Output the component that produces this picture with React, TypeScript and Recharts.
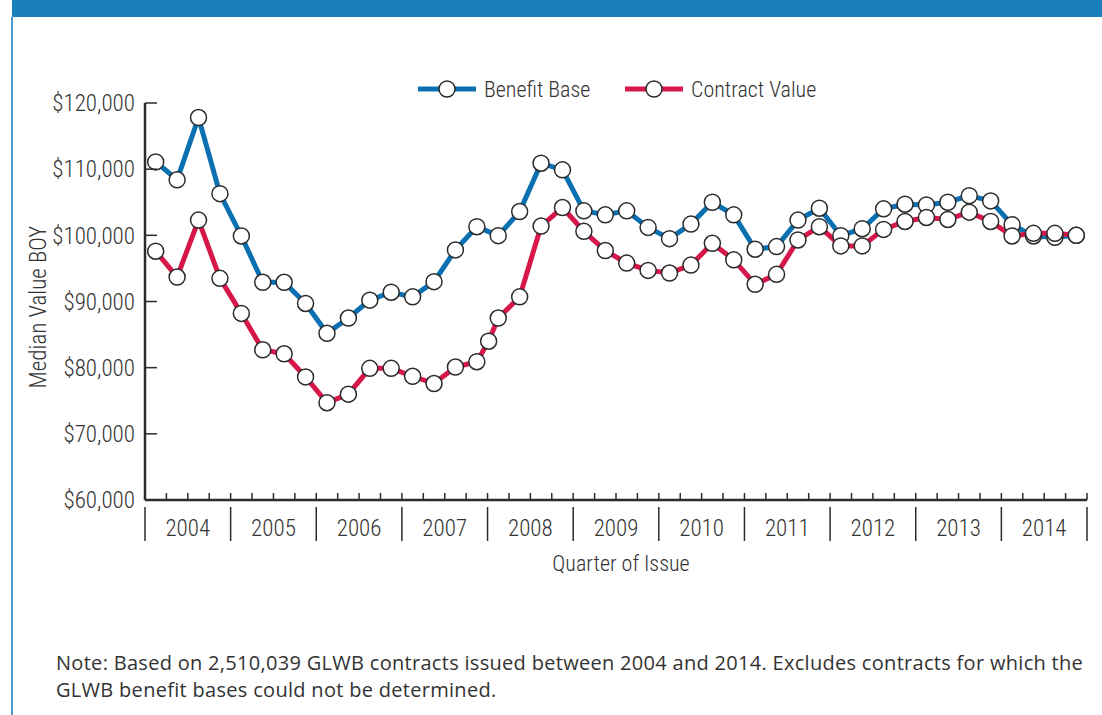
import { LineChart, Line, XAxis, YAxis } from 'recharts';

const BENEFIT_BASE = [
  111100, 108400, 117800, 106300, 99900, 92900, 92900, 89700, 85200, 87500, 90200,
  91400, 90700, 93000, 97800, 101300, 99950, 103600, 110900, 109900, 103700, 103100,
  103700, 101200, 99500, 101700, 105000, 103100, 97900, 98300, 102300, 104100,
  99950, 101000, 104000, 104700, 104600, 105000, 106000, 105200, 101600, 99900,
  99700, 100000,
];

// the contract value series has one extra point between Q15 and Q16
const CONTRACT_POS = [
  0, 1, 2, 3, 4, 5, 6, 7, 8, 9, 10, 11, 12, 13, 14, 15, 15.55, 16, 17, 18, 19, 20,
  21, 22, 23, 24, 25, 26, 27, 28, 29, 30, 31, 32, 33, 34, 35, 36, 37, 38, 39, 40,
  41, 42, 43,
];
const CONTRACT_VALUE = [
  97600, 93700, 102300, 93500, 88200, 82700, 82100, 78600, 74700, 76000, 79900,
  79900, 78700, 77600, 80100, 80900, 84000, 87500, 90700, 101400, 104200, 100600,
  97700, 95800, 94700, 94300, 95500, 98800, 96300, 92600, 94100, 99300, 101300,
  98400, 98400, 100900, 102100, 102700, 102400, 103500, 102100, 99900, 100300,
  100300, 100000,
];

const YEARS = ['2004', '2005', '2006', '2007', '2008', '2009', '2010', '2011', '2012', '2013', '2014'];
const Y_TICKS = [60000, 70000, 80000, 90000, 100000, 110000, 120000];

const BLUE = '#0b70b1';
const RED = '#d5174a';
const INK = '#2b2b2b';
const TEXT = '#333';
const NARROW = '"Liberation Sans Narrow", "Roboto Condensed", "DejaVu Sans Condensed", sans-serif';

const benefitData = BENEFIT_BASE.map((v, i) => ({ q: i, v }));
const contractData = CONTRACT_VALUE.map((v, i) => ({ q: CONTRACT_POS[i], v }));
const boundaries = Array.from({ length: YEARS.length * 4 + 1 }, (_, k) => k - 0.5);

const dot = { r: 8, fill: '#fff', stroke: INK, strokeWidth: 1.5 };

function XTick(props: any) {
  const { x, y, payload } = props;
  const k = Math.round(payload.value + 0.5);
  return (
    <g>
      <line x1={x} y1={y} x2={x} y2={y - 7} stroke={INK} strokeWidth={1.5} />
      {k % 4 === 0 && <line x1={x} y1={y + 7} x2={x} y2={y + 41} stroke={INK} strokeWidth={1.5} />}
      {k % 4 === 2 && (
        <text x={x} y={y + 36} textAnchor="middle" fontFamily={NARROW} fontWeight={300} fontSize={23} fill={TEXT}>
          {YEARS[(k - 2) / 4]}
        </text>
      )}
    </g>
  );
}

function YTick(props: any) {
  const { x, y, payload } = props;
  return (
    <g>
      <line x1={x} y1={y} x2={x + 12} y2={y} stroke={INK} strokeWidth={1.5} />
      <text x={x - 10} y={y} dy="0.36em" textAnchor="end" fontFamily={NARROW} fontWeight={300} fontSize={23} fill={TEXT}>
        {'$' + payload.value.toLocaleString('en-US')}
      </text>
    </g>
  );
}

function LegendItem({ color, label, left }: { color: string; label: string; left: number }) {
  return (
    <div style={{ position: 'absolute', left, top: 76, display: 'flex', alignItems: 'center', height: 26 }}>
      <svg width={58} height={20}>
        <line x1={0} y1={10} x2={58} y2={10} stroke={color} strokeWidth={5} />
        <circle cx={29} cy={10} r={8} fill="#fff" stroke={INK} strokeWidth={1.5} />
      </svg>
      <span style={{ marginLeft: 8, fontFamily: NARROW, fontWeight: 300, fontSize: 22, color: TEXT }}>{label}</span>
    </div>
  );
}

export default function App() {
  return (
    <div style={{ position: 'absolute', left: 0, top: 0, width: 1102, height: 715, background: '#fff', overflow: 'hidden' }}>
      <div style={{ position: 'absolute', left: 12, top: 0, right: 0, height: 17, background: '#1a80bb' }} />
      <div style={{ position: 'absolute', left: 11, top: 17, width: 1.5, bottom: 0, background: '#4a9ccc' }} />

      <LegendItem color={BLUE} label="Benefit Base" left={418} />
      <LegendItem color={RED} label="Contract Value" left={625} />

      <div style={{ position: 'absolute', left: 0, top: 0 }}>
        <LineChart width={1102} height={715} margin={{ top: 103, right: 15, bottom: 175, left: 45 }}>
          <XAxis
            type="number"
            dataKey="q"
            domain={[-0.5, 43.5]}
            ticks={boundaries}
            interval={0}
            height={40}
            tickSize={0}
            tickMargin={0}
            tickLine={false}
            axisLine={{ stroke: INK, strokeWidth: 2.5 }}
            tick={<XTick />}
            allowDataOverflow
          />
          <YAxis
            type="number"
            domain={[60000, 120000]}
            ticks={Y_TICKS}
            interval={0}
            width={100}
            tickSize={0}
            tickMargin={0}
            tickLine={false}
            axisLine={{ stroke: INK, strokeWidth: 2.5 }}
            tick={<YTick />}
          />
          <Line
            data={benefitData}
            dataKey="v"
            stroke={BLUE}
            strokeWidth={5}
            dot={dot}
            activeDot={false}
            isAnimationActive={false}
          />
          <Line
            data={contractData}
            dataKey="v"
            stroke={RED}
            strokeWidth={5}
            dot={dot}
            activeDot={false}
            isAnimationActive={false}
          />
        </LineChart>
      </div>

      <div
        style={{
          position: 'absolute', left: 38, top: 307, transform: 'translate(-50%, -50%) rotate(-90deg)',
          fontFamily: NARROW, fontWeight: 300, fontSize: 23, color: TEXT, whiteSpace: 'nowrap',
        }}
      >
        Median Value BOY
      </div>
      <div
        style={{
          position: 'absolute', left: 621, top: 563, transform: 'translate(-50%, -50%)',
          fontFamily: NARROW, fontWeight: 300, fontSize: 22, color: TEXT, whiteSpace: 'nowrap',
        }}
      >
        Quarter of Issue
      </div>

      <div
        style={{
          position: 'absolute', left: 56, top: 649, width: 1046, fontFamily: '"Open Sans", sans-serif',
          fontSize: 20, letterSpacing: 0.3, lineHeight: '27px', color: TEXT, whiteSpace: 'nowrap',
        }}
      >
        Note: Based on 2,510,039 GLWB contracts issued between 2004 and 2014. Excludes contracts for which the
        <br />
        GLWB benefit bases could not be determined.
      </div>
    </div>
  );
}
